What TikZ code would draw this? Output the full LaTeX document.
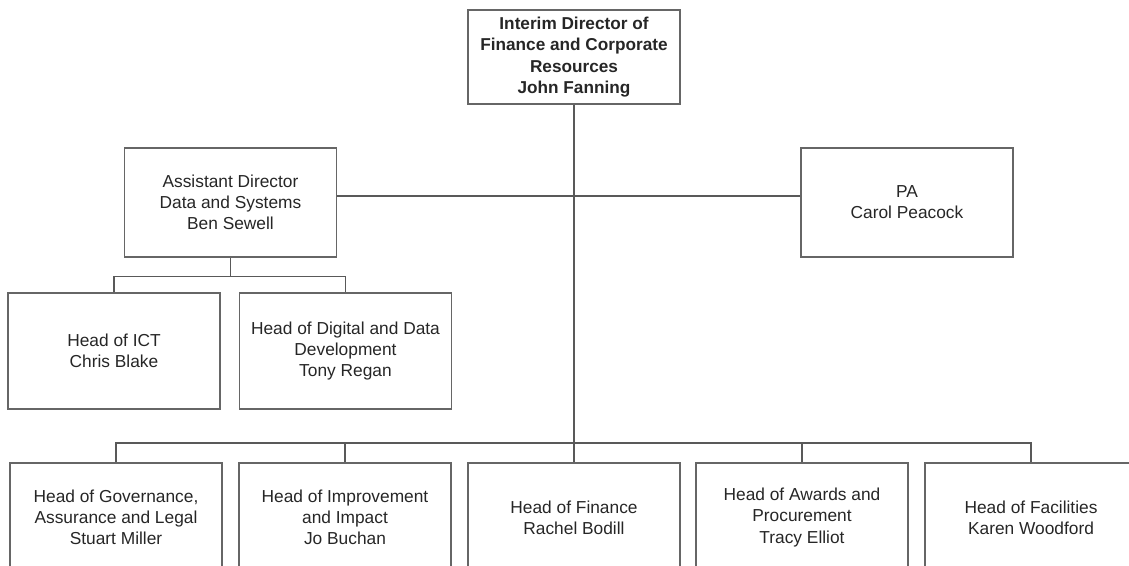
\documentclass[tikz,border=0pt]{standalone}
\usepackage{fontspec}
\setmainfont{Liberation Sans}
\usetikzlibrary{calc}

\begin{document}
\begin{tikzpicture}[x=.75pt,y=-.75pt,
  box/.style={draw=black!60, line width=.8pt, align=center, inner sep=0pt,
    font=\fontsize{13}{15.8}\selectfont, text=black!85,
    minimum width=159pt, minimum height=81.75pt},
  link/.style={draw=black!65, line width=.8pt}]
\useasboundingbox (0,0) rectangle (1129,565);
%director and office
\node[box, font=\bfseries\fontsize{12.9}{16}\selectfont, minimum height=70.5pt] (dir) at (574,57)
  {Interim Director of\\Finance and Corporate\\Resources\\John Fanning};
\node[box] (ad) at (230.5,202.5)
  {Assistant Director\\Data and Systems\\Ben Sewell};
\node[box] (pa) at (907,202.5)
  {PA\\Carol Peacock};
%data and systems team
\node[box, minimum height=87pt] (ict) at (114,351)
  {Head of ICT\\Chris Blake};
\node[box, minimum height=87pt] (dig) at (345.5,351)
  {Head of Digital and Data\\Development\\Tony Regan};
%heads of service
\node[box] (gov) at (116,517.5)
  {Head of Governance,\\Assurance and Legal\\Stuart Miller};
\node[box] (imp) at (345,517.5)
  {Head of Improvement\\and Impact\\Jo Buchan};
\node[box] (fin) at (574,517.5)
  {Head of Finance\\Rachel Bodill};
\node[box] (awd) at (802,517.5)
  {Head of Awards and\\Procurement\\Tracy Elliot};
\node[box] (fac) at (1031,517.5)
  {Head of Facilities\\Karen Woodford};
%lines
\draw[link] (dir.south) -- (fin.north);
\draw[link] ($(ad.east)+(0,-6.5)$) -- ($(pa.west)+(0,-6.5)$);
\draw[link] (ad.south) -- ++(0,19) coordinate (adbus);
\draw[link] (ict.north) |- (adbus) -| (dig.north);
\coordinate (bus) at (574,443);
\draw[link] (gov.north) |- (bus) -| (fac.north);
\draw[link] (imp.north) -- (imp.north |- bus);
\draw[link] (awd.north) -- (awd.north |- bus);
\end{tikzpicture}
\end{document}
